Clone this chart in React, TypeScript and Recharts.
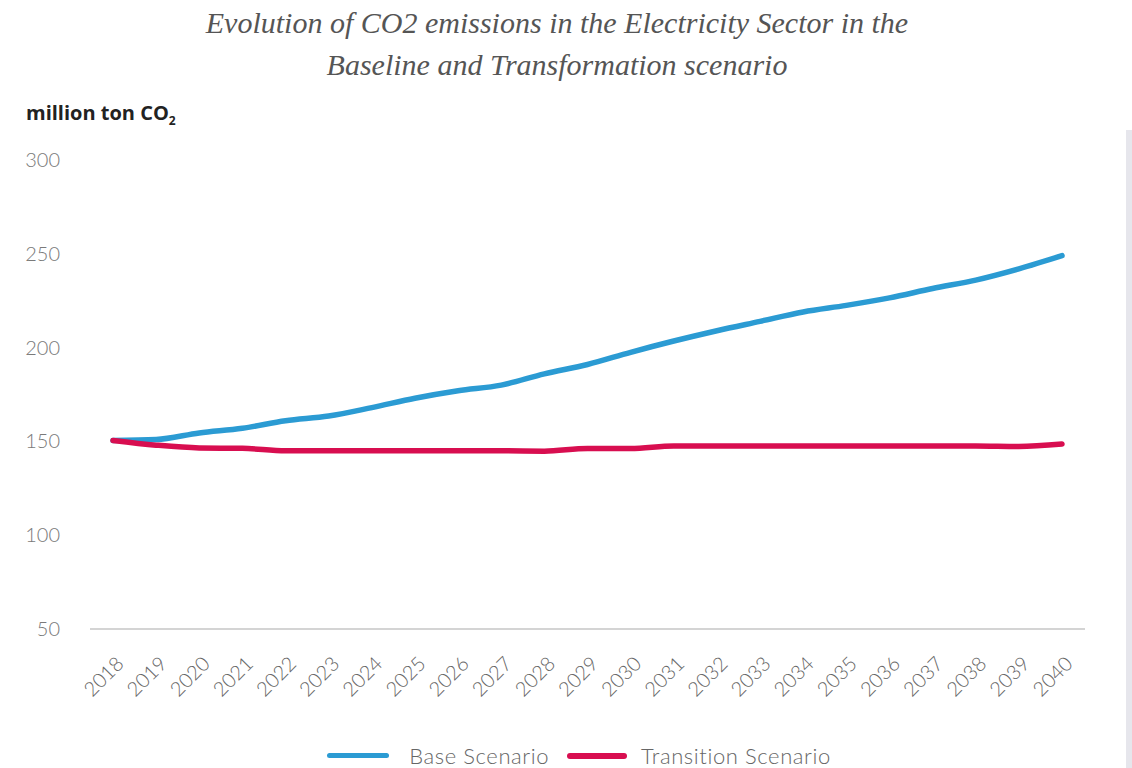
import React from 'react';
import { LineChart, Line, XAxis, YAxis, Legend } from 'recharts';

const years = ['2018','2019','2020','2021','2022','2023','2024','2025','2026','2027','2028','2029','2030','2031','2032','2033','2034','2035','2036','2037','2038','2039','2040'];
const baseScenario = [150.5, 151, 154.5, 157, 161, 163.5, 168, 173, 177, 180, 186, 191, 197.5, 203.5, 209, 214, 219, 222.5, 226.5, 231.5, 236, 242, 249];
const transitionScenario = [150.5, 148, 146.5, 146.3, 145, 145, 145, 145, 145, 145, 144.8, 146.2, 146.2, 147.6, 147.6, 147.6, 147.6, 147.6, 147.6, 147.6, 147.6, 147.3, 148.6];
const yTicks = [50, 100, 150, 200, 250, 300];

const data = years.map((y, i) => ({ year: y, base: baseScenario[i], transition: transitionScenario[i] }));

const BLUE = '#2b9bd3';
const RED = '#d80e50';

const XTick = (props: any) => {
  const { x, y, payload } = props;
  const ax = x + 12;
  const ay = y + 28;
  return (
    <text x={ax} y={ay} transform={`rotate(-45, ${ax}, ${ay})`} textAnchor="end" fill="#666" fontSize={20} fontFamily="Lato, 'Open Sans', sans-serif" fontWeight={300}>
      {payload.value}
    </text>
  );
};

const YTick = (props: any) => {
  const { x, y, payload } = props;
  return (
    <text x={x - 24} y={y} dy={7} textAnchor="end" fill="#7a7a7a" fontSize={20} fontFamily="Lato, 'Open Sans', sans-serif" fontWeight={300}>
      {payload.value}
    </text>
  );
};

const LegendContent = () => (
  <div style={{ display: 'flex', justifyContent: 'center', alignItems: 'center', fontFamily: "Lato, 'Open Sans', sans-serif", fontWeight: 300, fontSize: 22, letterSpacing: 0.6, color: '#666', marginLeft: 26 }}>
    <span style={{ display: 'inline-block', width: 62, height: 5, borderRadius: 3, background: BLUE, marginRight: 20 }} />
    <span style={{ marginRight: 18 }}>Base Scenario</span>
    <span style={{ display: 'inline-block', width: 60, height: 6, borderRadius: 3, background: RED, marginRight: 14 }} />
    <span>Transition Scenario</span>
  </div>
);

export default function App() {
  return (
    <div style={{ position: 'absolute', left: 0, top: 0, width: 1132, height: 768, background: '#fff', overflow: 'hidden' }}>
      <div style={{ position: 'absolute', left: 0, top: 2, width: 1114, textAlign: 'center', fontFamily: "'Liberation Serif', 'DejaVu Serif', serif", fontStyle: 'italic', fontSize: 30, lineHeight: '42px', color: '#555' }}>
        Evolution of CO2 emissions in the Electricity Sector in the<br />Baseline and Transformation scenario
      </div>
      <div style={{ position: 'absolute', left: 26, top: 99, fontFamily: "'Open Sans', sans-serif", fontWeight: 700, fontSize: 20, color: '#222' }}>
        million ton CO<sub style={{ fontSize: 12, verticalAlign: 'sub' }}>2</sub>
      </div>
      <div style={{ position: 'absolute', left: 1126, top: 130, width: 6, height: 638, background: '#e6e6ec' }} />
      <LineChart width={1132} height={768} data={data} margin={{ top: 160, right: 47, bottom: 0, left: 0 }}>
        <XAxis dataKey="year" interval={0} height={112} padding={{ left: 23, right: 23 }} tickLine={false} axisLine={{ stroke: '#d4d4d4', strokeWidth: 2 }} tick={<XTick />} />
        <YAxis domain={[50, 300]} ticks={yTicks} width={90} axisLine={false} tickLine={false} tick={<YTick />} tickMargin={0} />
        <Legend content={<LegendContent />} wrapperStyle={{ position: 'absolute', top: 742, left: 0, width: 1132 }} />
        <Line type="monotone" dataKey="base" name="Base Scenario" stroke={BLUE} strokeWidth={5.5} dot={false} isAnimationActive={false} strokeLinecap="round" />
        <Line type="monotone" dataKey="transition" name="Transition Scenario" stroke={RED} strokeWidth={5.5} dot={false} isAnimationActive={false} strokeLinecap="round" />
      </LineChart>
    </div>
  );
}
